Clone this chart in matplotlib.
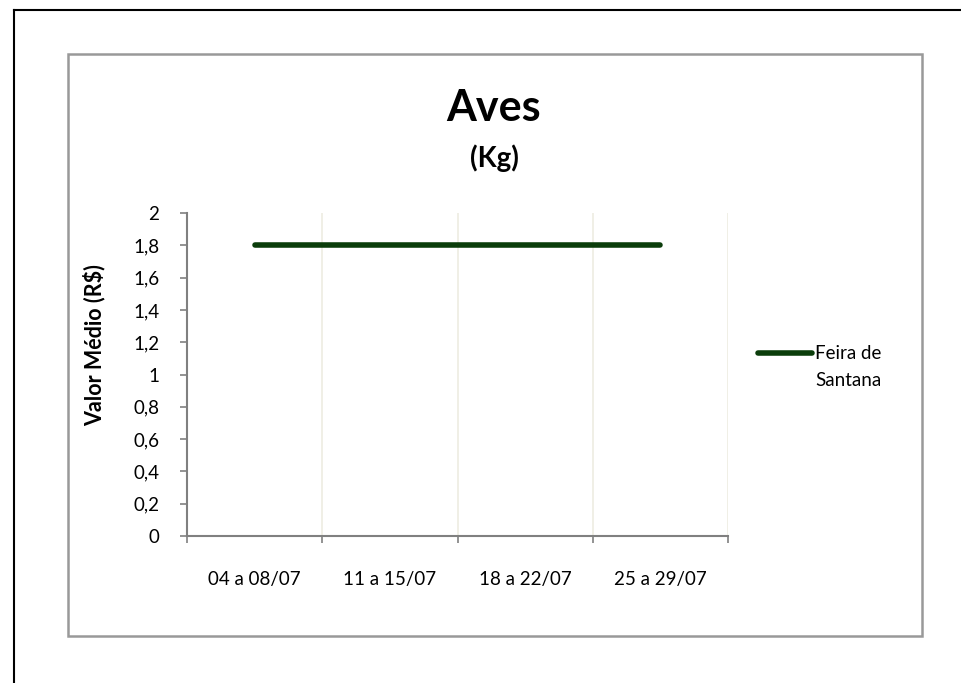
import matplotlib
matplotlib.use("Agg")
import matplotlib.pyplot as plt
from matplotlib.lines import Line2D
from matplotlib.patches import Rectangle

# data
categories = ["04 a 08/07", "11 a 15/07", "18 a 22/07", "25 a 29/07"]
feira_de_santana = [1.8, 1.8, 1.8, 1.8]
series_name = ["Feira de", "Santana"]
y_ticks = [0, 0.2, 0.4, 0.6, 0.8, 1, 1.2, 1.4, 1.6, 1.8, 2]
y_tick_labels = ["0", "0,2", "0,4", "0,6", "0,8", "1", "1,2", "1,4", "1,6", "1,8", "2"]

# style
LINE_GREEN = "#0b3d0b"
GRID = "#eeece1"
AXIS_GRAY = "#808080"
FONT = "Lato"
TICK_FS = 13.5

plt.rcParams["font.family"] = [FONT, "DejaVu Sans"]

W, H = 961, 683
fig = plt.figure(figsize=(W / 100, H / 100), dpi=100, facecolor="white")

# outer page border (top + left) and the chart frame
fig.add_artist(Line2D([13.5 / W, 13.5 / W], [0, 1 - 10 / H], transform=fig.transFigure,
                      color="black", lw=1.5))
fig.add_artist(Line2D([13.5 / W, 1], [1 - 10 / H, 1 - 10 / H], transform=fig.transFigure,
                      color="black", lw=1.5))
fig.add_artist(Rectangle((68 / W, 1 - 636 / H), (922 - 68) / W, (636 - 54) / H,
                         transform=fig.transFigure, fill=False, ec="#999999", lw=1.8))

ax = fig.add_axes([187 / W, 1 - 536 / H, (728 - 187) / W, (536 - 213) / H])
x = list(range(len(categories)))
ax.plot(x, feira_de_santana, color=LINE_GREEN, lw=4, solid_capstyle="round")

ax.set_xlim(-0.5, len(categories) - 0.5)
ax.set_ylim(0, 2)
ax.set_yticks(y_ticks)
ax.set_yticklabels(y_tick_labels, fontsize=TICK_FS)

# boundary ticks + grid, labels at category centres
bounds = [i - 0.5 for i in range(len(categories) + 1)]
ax.set_xticks(bounds)
ax.set_xticklabels([])
ax.set_xticks(x, minor=True)
ax.set_xticklabels(categories, minor=True, fontsize=TICK_FS)
ax.tick_params(axis="x", which="minor", length=0, pad=25)
ax.tick_params(axis="x", which="major", length=5, color=AXIS_GRAY, width=1.2)
ax.tick_params(axis="y", length=5, color=AXIS_GRAY, width=1.2, pad=15)
for b in bounds[1:]:
    ax.axvline(b, color=GRID, lw=1.2, zorder=0)

for s in ["top", "right"]:
    ax.spines[s].set_visible(False)
for s in ["left", "bottom"]:
    ax.spines[s].set_color(AXIS_GRAY)
    ax.spines[s].set_linewidth(1.5)

ax.set_ylabel("Valor Médio (R$)", fontsize=15.5, fontweight="bold")
ax.yaxis.set_label_coords((105 - 187) / (728 - 187), (536 - 345) / (536 - 213))

fig.text(494 / W, 1 - 108 / H, "Aves", fontsize=31, fontweight="bold",
         ha="center", va="center")
fig.text(494 / W, 1 - 158 / H, "(Kg)", fontsize=20, fontweight="bold",
         ha="center", va="center")

# legend: handle aligned with the first text line, as in the original
fig.add_artist(Line2D([758 / W, 812 / W], [1 - 353 / H, 1 - 353 / H],
                      transform=fig.transFigure, color=LINE_GREEN, lw=4,
                      solid_capstyle="round"))
fig.text(815 / W, 1 - 353 / H, series_name[0], fontsize=TICK_FS, ha="left", va="center")
fig.text(815 / W, 1 - 380 / H, series_name[1], fontsize=TICK_FS, ha="left", va="center")

fig.savefig("out.png", dpi=100, facecolor="white")
